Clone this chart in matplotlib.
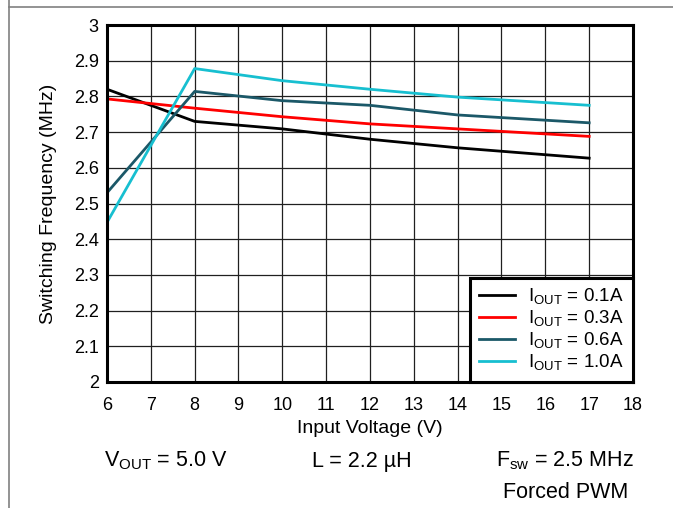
import matplotlib.pyplot as plt
from matplotlib.lines import Line2D

plt.rcParams['font.family'] = ['Liberation Sans', 'DejaVu Sans']
plt.rcParams['mathtext.fontset'] = 'custom'
plt.rcParams['mathtext.rm'] = 'Liberation Sans'

# input voltage (V)
vin = [6, 8, 10, 12, 14, 17]

# switching frequency (MHz) per load current
f_01 = [2.82, 2.73, 2.709, 2.68, 2.656, 2.627]
f_03 = [2.793, 2.767, 2.743, 2.723, 2.709, 2.688]
f_06 = [2.53, 2.814, 2.788, 2.775, 2.748, 2.726]
f_10 = [2.447, 2.878, 2.844, 2.82, 2.798, 2.775]

labels = ['I$_{\\mathregular{OUT}}$ = 0.1A', 'I$_{\\mathregular{OUT}}$ = 0.3A',
          'I$_{\\mathregular{OUT}}$ = 0.6A', 'I$_{\\mathregular{OUT}}$ = 1.0A']
colors = ['#000000', '#ff0000', '#1b5868', '#17bfd0']

xticks = list(range(6, 19))
yticks = [2, 2.1, 2.2, 2.3, 2.4, 2.5, 2.6, 2.7, 2.8, 2.9, 3]
yticklabels = ['2', '2.1', '2.2', '2.3', '2.4', '2.5', '2.6', '2.7', '2.8', '2.9', '3']

fig = plt.figure(figsize=(6.73, 5.08), dpi=100)
ax = fig.add_axes([107/673, 1 - 382/508, (633-107)/673, (382-25)/508])

for ys, lab, c in zip([f_01, f_03, f_06, f_10], labels, colors):
    ax.plot(vin, ys, color=c, lw=2, label=lab)

ax.set_xlim(6, 18)
ax.set_ylim(2, 3)
ax.set_xticks(xticks)
ax.set_yticks(yticks)
ax.set_yticklabels(yticklabels)
ax.tick_params(length=0, labelsize=13)
ax.tick_params(axis='x', pad=11)
ax.tick_params(axis='y', pad=6)
ax.grid(True, color='#202020', lw=0.9)
ax.set_axisbelow(True)
for s in ax.spines.values():
    s.set_linewidth(2.2)
ax.set_xlabel('Input Voltage (V)', fontsize=14, labelpad=4)
ax.set_ylabel('Switching Frequency (MHz)', fontsize=14, labelpad=12)

leg = ax.legend(loc='lower right', borderaxespad=0, fontsize=13.5, fancybox=False,
                handlelength=1.9, labelspacing=0.08, borderpad=0.5, handletextpad=0.7)
leg.get_frame().set_edgecolor('black')
leg.get_frame().set_linewidth(2.2)
leg.get_frame().set_alpha(1)

fig.text(166/673, 1 - 461/508, 'V$_{\\mathregular{OUT}}$ = 5.0 V', ha='center', va='center', fontsize=15.5)
fig.text(362/673, 1 - 461/508, 'L = 2.2 µH', ha='center', va='center', fontsize=15.5)
fig.text(565/673, 1 - 461/508, 'F$_{\\mathregular{sw}}$ = 2.5 MHz', ha='center', va='center', fontsize=15.5)
fig.text(566/673, 1 - 492/508, 'Forced PWM', ha='center', va='center', fontsize=15.5)

# page frame lines
fig.add_artist(Line2D([9/673, 1], [1 - 7/508, 1 - 7/508], color='#808080', lw=1.2))
fig.add_artist(Line2D([9/673, 9/673], [0, 1], color='#808080', lw=1.2))

fig.savefig('out.png', dpi=100)
